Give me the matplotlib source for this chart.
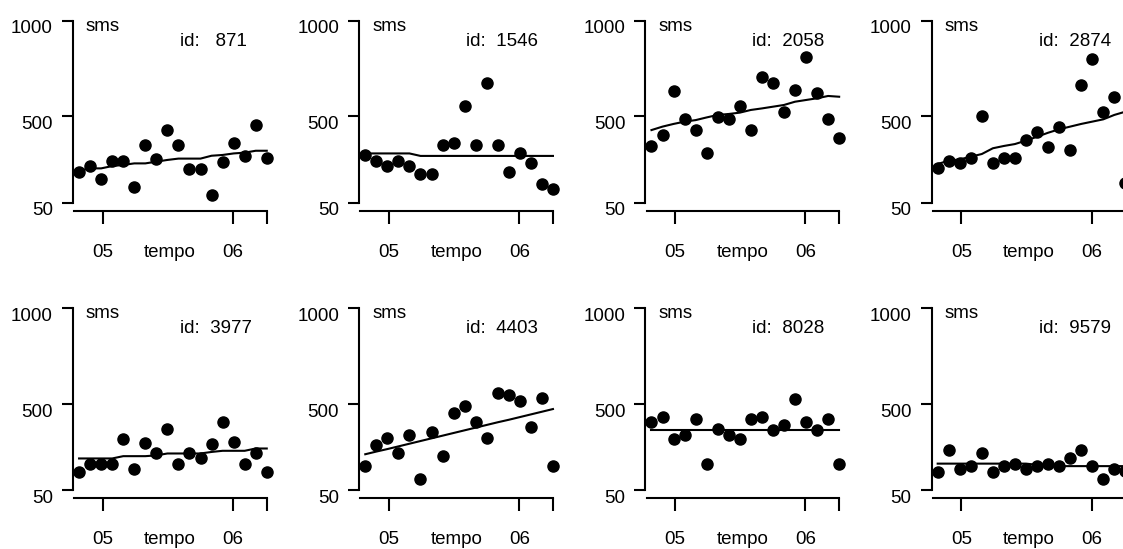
import matplotlib.pyplot as plt

plt.rcParams['font.family'] = ['Liberation Sans', 'DejaVu Sans']

# panel ids, in reading order
ids = [871, 1546, 2058, 2874, 3977, 4403, 8028, 9579]

# time index of the observations (18 per subject)
tempo = list(range(1, 19))
month_pos = [3.15, 14.95]
month_lab = ['05', '06']

# observed sms per subject
sms = {
    871:  [208, 243, 172, 269, 267, 130, 351, 280, 429, 351, 226, 226, 90, 264, 363, 295, 455, 281],
    1546: [299, 269, 243, 269, 243, 200, 200, 351, 363, 554, 351, 676, 351, 212, 311, 255, 147, 120],
    2058: [347, 403, 635, 485, 429, 307, 499, 485, 554, 429, 704, 676, 525, 638, 812, 621, 485, 389],
    2874: [229, 269, 255, 281, 502, 255, 281, 281, 377, 421, 339, 447, 325, 664, 798, 525, 600, 153],
    3977: [146, 189, 189, 189, 315, 163, 298, 242, 372, 189, 242, 216, 289, 407, 303, 189, 242, 146],
    4403: [177, 285, 324, 242, 338, 108, 355, 228, 451, 489, 407, 324, 559, 547, 515, 381, 533, 177],
    8028: [407, 434, 320, 338, 421, 186, 369, 338, 320, 421, 434, 364, 393, 529, 407, 364, 421, 186],
    9579: [146, 259, 160, 176, 245, 146, 177, 189, 163, 176, 189, 176, 219, 259, 176, 108, 163, 149],
}

# fitted values per subject
fit = {
    871:  [217, 229, 229, 241, 247, 255, 255, 264, 273, 280, 280, 280, 295, 299, 307, 311, 321, 321],
    1546: [307, 307, 307, 307, 307, 294, 294, 294, 294, 294, 294, 294, 294, 294, 294, 294, 294, 294],
    2058: [429, 447, 461, 473, 481, 495, 508, 513, 520, 534, 542, 551, 560, 577, 586, 595, 607, 603],
    2874: [252, 269, 276, 290, 304, 334, 346, 356, 374, 394, 415, 433, 447, 461, 473, 485, 508, 525],
    3977: [216, 216, 216, 216, 228, 228, 228, 232, 242, 242, 242, 242, 250, 256, 256, 256, 268, 268],
    4403: [238, 252, 265, 279, 293, 307, 321, 335, 349, 363, 377, 391, 405, 418, 432, 446, 460, 474],
    8028: [364, 364, 364, 364, 364, 364, 364, 364, 364, 364, 364, 364, 364, 364, 364, 364, 364, 364],
    9579: [189, 189, 189, 189, 189, 189, 189, 189, 189, 183, 183, 176, 176, 176, 176, 176, 176, 176],
}

y_ticks = [50, 500, 1000]

W, H = 1123, 549
fig = plt.figure(figsize=(W / 100, H / 100), dpi=100)

x_lo, x_hi = 0.45, 18.4
y_lo, y_hi = 8, 1000
px_per_x = 11.04
fs = 13.5

for k, pid in enumerate(ids):
    row, col = divmod(k, 4)
    left = 73 + 286.2 * col
    top = 20.7 + 287.6 * row
    width = (x_hi - x_lo) * px_per_x
    height = 190
    ax = fig.add_axes([left / W, 1 - (top + height) / H, width / W, height / H])

    ax.plot(tempo, fit[pid], color='black', lw=1.5, clip_on=False, zorder=2)
    ax.plot(tempo, sms[pid], 'o', color='black', ms=8, clip_on=False, zorder=3)

    ax.set_xlim(x_lo, x_hi)
    ax.set_ylim(y_lo, y_hi)
    for s in ['top', 'right']:
        ax.spines[s].set_visible(False)
    ax.spines['left'].set_bounds(50, 1000)
    ax.spines['bottom'].set_bounds(x_lo + 0.1, 18)
    for s in ['left', 'bottom']:
        ax.spines[s].set_linewidth(1.5)

    ax.set_yticks(y_ticks)
    ax.set_xticks(month_pos + [18])
    ax.set_yticklabels([])
    ax.set_xticklabels([])
    ax.tick_params(axis='y', length=8, width=1.5)
    ax.tick_params(axis='x', length=9.5, width=1.5)

    for v in y_ticks:
        ax.annotate(str(v), xy=(0, v), xycoords=('axes fraction', 'data'),
                    xytext=(-20, -8), textcoords='offset pixels',
                    ha='right', va='center', fontsize=fs)
    for p, lab in zip(month_pos, month_lab):
        ax.annotate(lab, xy=(p, 0), xycoords=('data', 'axes fraction'),
                    xytext=(0, -33), textcoords='offset pixels',
                    ha='center', va='top', fontsize=fs)
    ax.annotate('tempo', xy=(0.49, 0), xycoords='axes fraction',
                xytext=(0, -33), textcoords='offset pixels',
                ha='center', va='top', fontsize=fs)
    ax.annotate('sms', xy=(0, 1), xycoords='axes fraction',
                xytext=(13, 3), textcoords='offset pixels',
                ha='left', va='top', fontsize=fs)
    ax.annotate('id:  %s' % str(pid).rjust(4), xy=(0, 1), xycoords='axes fraction',
                xytext=(107, -12), textcoords='offset pixels',
                ha='left', va='top', fontsize=fs)

fig.savefig('out.png', dpi=100)
